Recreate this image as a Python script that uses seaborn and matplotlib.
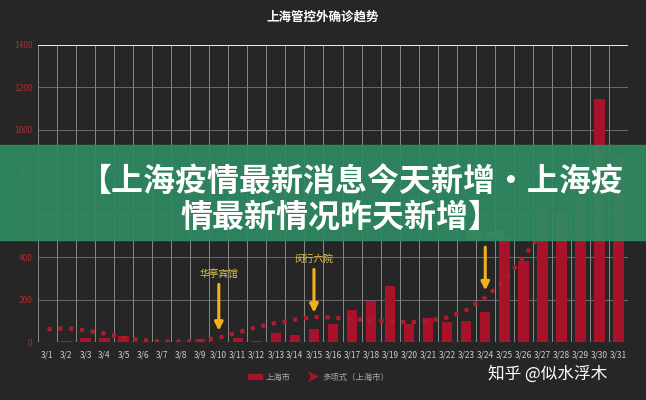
import matplotlib
matplotlib.use("Agg")
import matplotlib.pyplot as plt
import seaborn as sns
import pandas as pd
import numpy as np

dates = [f"3/{i}" for i in range(1, 32)]
cases = [0, 6, 17, 17, 29, 0, 0, 0, 14, 0, 21, 6, 42, 33, 61, 86, 150, 192, 265, 83,
         115, 92, 101, 142, 500, 383, 627, 618, 690, 1145, 880]
trend = [60, 65, 55, 40, 20, 8, 2, 2, 5, 20, 45, 70, 90, 105, 118, 115, 108, 102, 98, 92,
         100, 115, 150, 210, 290, 400, 520, 640, 760, 880, 900]
# label, x index, label value, arrow start, arrow end
annotations = [("华亭宾馆", 9, 320, 285, 40), ("闵行六院", 14, 390, 355, 125), ("疑似病例", 23, 500, 460, 230)]

sns.set_theme(style="dark")
plt.rcParams['font.family'] = ['Noto Sans CJK SC', 'DejaVu Sans']
bg = "#262626"
fig = plt.figure(figsize=(6.46, 4.0), dpi=100, facecolor=bg)
ax = fig.add_axes([38/646, 1-342/400, 590/646, 297/400])
ax.set_facecolor(bg)
df = pd.DataFrame({"date": dates, "cases": cases, "trend": trend})
sns.barplot(data=df, x="date", y="cases", color="#a8132a", saturation=1, width=0.55,
            linewidth=0, edgecolor="none", ax=ax)
sns.lineplot(x=np.arange(31), y=trend, ax=ax, color="#b01c2c", linestyle=(0, (1, 1.6)), linewidth=3)
ax.set_ylim(0, 1400)
ax.set_xlim(-0.5, 30.5)
ax.set_yticks(range(0, 1401, 200))
ax.tick_params(axis="y", colors="#b02a2a", labelsize=6, length=0, pad=4)
ax.tick_params(axis="x", colors="#cccccc", labelsize=6, length=0, pad=6)
ax.set_xlabel(""); ax.set_ylabel("")
ax.grid(axis="y", color="#777777", linewidth=0.6)
for x in np.arange(-0.5, 31, 1):
    ax.axvline(x, color="#8a8a8a", linewidth=0.7, zorder=0)
for s in ax.spines.values():
    s.set_visible(False)
ax.axhline(1400, color="white", linewidth=1.2)
ax.axhline(0, color="#888888", linewidth=0.8)
for lab, xi, yl, y0, y1 in annotations:
    ax.annotate("", xy=(xi, y1), xytext=(xi, y0),
                arrowprops=dict(arrowstyle="-|>", color="#f2b01e", lw=2.2, mutation_scale=12))
    ax.text(xi, yl, lab, color="#e8c84a", fontsize=7, ha="center", va="center")
fig.text(0.5, 1-17/400, "上海管控外确诊趋势", color="white", fontsize=9, fontweight="bold", ha="center", va="center")
# legend
fig.patches.append(plt.Rectangle((248/646, 1-379/400), 14/646, 5/400, transform=fig.transFigure, color="#a8132a"))
fig.text(266/646, 1-377/400, "上海市", color="#aaaaaa", fontsize=6, va="center")
fig.text(305/646, 1-377/400, "➤", color="#a8132a", fontsize=12, va="center", family=["DejaVu Sans"])
fig.text(322/646, 1-377/400, "多项式（上海市）", color="#aaaaaa", fontsize=6, va="center")
fig.text(488/646, 1-374/400, "知乎 @似水浮木", color="white", fontsize=12, va="center")
# banner
fig.patches.append(plt.Rectangle((0, 1-240/400), 1, 95/400, transform=fig.transFigure, color="#2e8a62", alpha=0.93, zorder=10))
fig.text(352/646, 1-182/400, "【上海疫情最新消息今天新增·上海疫", color="white", fontsize=23, fontweight="bold", ha="center", va="center", zorder=11)
fig.text(340/646, 1-218/400, "情最新情况昨天新增】", color="white", fontsize=23, fontweight="bold", ha="center", va="center", zorder=11)
fig.savefig("out.png", dpi=100, facecolor=bg)
